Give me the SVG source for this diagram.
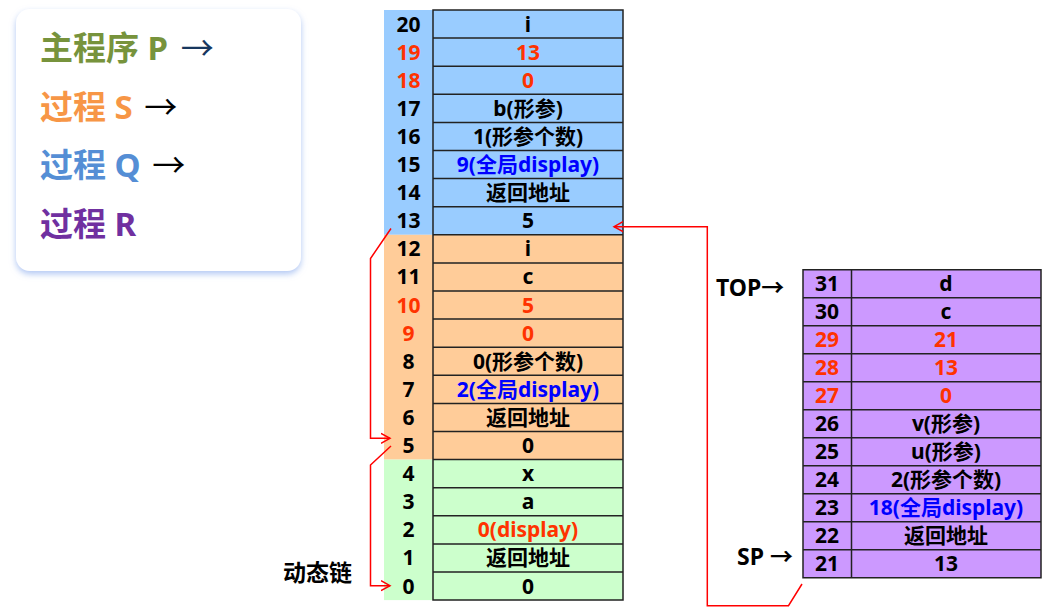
<svg xmlns="http://www.w3.org/2000/svg" width="1064" height="613" viewBox="0 0 1064 613">
<defs>
<style>
.t{font-family:"Noto Sans","Noto Sans CJK SC",sans-serif;font-weight:bold;font-size:21px;text-anchor:middle;fill:#000}
.r{fill:#FF3300}
.b{fill:#0000FF}
.lg{font-family:"Noto Sans","Noto Sans CJK SC",sans-serif;font-weight:bold;font-size:33px}
.ar{font-family:"Noto Sans CJK SC",sans-serif;font-weight:normal}
.lab{font-family:"Noto Sans","Noto Sans CJK SC",sans-serif;font-weight:bold;font-size:23px;fill:#000}
.grid{fill:none;stroke:#222;stroke-width:1.5}
.link{fill:none;stroke:#FF0000;stroke-width:1.5}
</style>
<marker id="ah" markerWidth="12" markerHeight="12" refX="9" refY="6" orient="auto" markerUnits="userSpaceOnUse">
<path d="M0,1 L9,6 L0,11" fill="none" stroke="#FF0000" stroke-width="1.5"/>
</marker>
<filter id="sh" x="-10%" y="-10%" width="120%" height="125%">
<feDropShadow dx="0" dy="3" stdDeviation="3" flood-color="#9DB9F0" flood-opacity="0.8"/>
</filter>
</defs>
<g id="legend">
<rect x="16" y="9" width="285" height="262" rx="14" fill="#fff" filter="url(#sh)"/>
<text class="lg" x="40" y="60" fill="#77933C">主程序 P <tspan class="ar" dx="4" fill="#17375E">→</tspan></text>
<text class="lg" x="40" y="119" fill="#F79646">过程 S <tspan class="ar" dx="3" fill="#000">→</tspan></text>
<text class="lg" x="40" y="177" fill="#558ED5">过程 Q <tspan class="ar" dx="3" fill="#000">→</tspan></text>
<text class="lg" x="40" y="236" fill="#7030A0">过程 R</text>
</g>
<g id="stackMain">
<rect x="384" y="10" width="239" height="224.8" fill="#99CCFF"/>
<rect x="384" y="234.8" width="239" height="224.8" fill="#FFCC99"/>
<rect x="384" y="459.6" width="239" height="140.5" fill="#CCFFCC"/>
<path class="grid" d="M433,10H623V600.1H433Z M433,38.1H623 M433,66.2H623 M433,94.3H623 M433,122.4H623 M433,150.5H623 M433,178.6H623 M433,206.7H623 M433,234.8H623 M433,262.9H623 M433,291H623 M433,319.1H623 M433,347.2H623 M433,375.3H623 M433,403.4H623 M433,431.5H623 M433,459.6H623 M433,487.7H623 M433,515.8H623 M433,543.9H623 M433,572H623"/>
<g id="r20"><text class="t" x="408.5" y="31.5">20</text><text class="t" x="528" y="31.5">i</text></g>
<g id="r19"><text class="t r" x="408.5" y="59.6">19</text><text class="t r" x="528" y="59.6">13</text></g>
<g id="r18"><text class="t r" x="408.5" y="87.7">18</text><text class="t r" x="528" y="87.7">0</text></g>
<g id="r17"><text class="t" x="408.5" y="115.8">17</text><text class="t" x="528" y="115.8">b(形参)</text></g>
<g id="r16"><text class="t" x="408.5" y="143.9">16</text><text class="t" x="528" y="143.9">1(形参个数)</text></g>
<g id="r15"><text class="t" x="408.5" y="172">15</text><text class="t b" x="528" y="172">9(全局display)</text></g>
<g id="r14"><text class="t" x="408.5" y="200.1">14</text><text class="t" x="528" y="200.1">返回地址</text></g>
<g id="r13"><text class="t" x="408.5" y="228.2">13</text><text class="t" x="528" y="228.2">5</text></g>
<g id="r12"><text class="t" x="408.5" y="256.3">12</text><text class="t" x="528" y="256.3">i</text></g>
<g id="r11"><text class="t" x="408.5" y="284.4">11</text><text class="t" x="528" y="284.4">c</text></g>
<g id="r10"><text class="t r" x="408.5" y="312.5">10</text><text class="t r" x="528" y="312.5">5</text></g>
<g id="r9"><text class="t r" x="408.5" y="340.6">9</text><text class="t r" x="528" y="340.6">0</text></g>
<g id="r8"><text class="t" x="408.5" y="368.7">8</text><text class="t" x="528" y="368.7">0(形参个数)</text></g>
<g id="r7"><text class="t" x="408.5" y="396.8">7</text><text class="t b" x="528" y="396.8">2(全局display)</text></g>
<g id="r6"><text class="t" x="408.5" y="424.9">6</text><text class="t" x="528" y="424.9">返回地址</text></g>
<g id="r5"><text class="t" x="408.5" y="453">5</text><text class="t" x="528" y="453">0</text></g>
<g id="r4"><text class="t" x="408.5" y="481.1">4</text><text class="t" x="528" y="481.1">x</text></g>
<g id="r3"><text class="t" x="408.5" y="509.2">3</text><text class="t" x="528" y="509.2">a</text></g>
<g id="r2"><text class="t" x="408.5" y="537.3">2</text><text class="t r" x="528" y="537.3">0(display)</text></g>
<g id="r1"><text class="t" x="408.5" y="565.4">1</text><text class="t" x="528" y="565.4">返回地址</text></g>
<g id="r0"><text class="t" x="408.5" y="593.5">0</text><text class="t" x="528" y="593.5">0</text></g>
</g>
<g id="stackR">
<rect x="803" y="269.7" width="238" height="308" fill="#CC99FF"/>
<path class="grid" d="M803,269.7H1041V577.7H803Z M851.5,269.7V577.7 M803,297.7H1041 M803,325.7H1041 M803,353.7H1041 M803,381.7H1041 M803,409.7H1041 M803,437.7H1041 M803,465.7H1041 M803,493.7H1041 M803,521.7H1041 M803,549.7H1041"/>
<g id="r31"><text class="t" x="827" y="291.2">31</text><text class="t" x="946" y="291.2">d</text></g>
<g id="r30"><text class="t" x="827" y="319.2">30</text><text class="t" x="946" y="319.2">c</text></g>
<g id="r29"><text class="t r" x="827" y="347.2">29</text><text class="t r" x="946" y="347.2">21</text></g>
<g id="r28"><text class="t r" x="827" y="375.2">28</text><text class="t r" x="946" y="375.2">13</text></g>
<g id="r27"><text class="t r" x="827" y="403.2">27</text><text class="t r" x="946" y="403.2">0</text></g>
<g id="r26"><text class="t" x="827" y="431.2">26</text><text class="t" x="946" y="431.2">v(形参)</text></g>
<g id="r25"><text class="t" x="827" y="459.2">25</text><text class="t" x="946" y="459.2">u(形参)</text></g>
<g id="r24"><text class="t" x="827" y="487.2">24</text><text class="t" x="946" y="487.2">2(形参个数)</text></g>
<g id="r23"><text class="t" x="827" y="515.2">23</text><text class="t b" x="946" y="515.2">18(全局display)</text></g>
<g id="r22"><text class="t" x="827" y="543.2">22</text><text class="t" x="946" y="543.2">返回地址</text></g>
<g id="r21"><text class="t" x="827" y="571.2">21</text><text class="t" x="946" y="571.2">13</text></g>
</g>
<g id="labels">
<text class="lab" x="716" y="296">TOP→</text>
<text class="lab" x="737" y="565">SP →</text>
<text class="lab" x="283" y="581">动态链</text>
</g>
<g id="connectors">
<path class="link" d="M391,228.5 L370.5,258.5 L370.5,438.3 L390,438.3" marker-end="url(#ah)"/>
<path class="link" d="M391,446 L370.5,465 L370.5,585.7 L390,585.7" marker-end="url(#ah)"/>
<path class="link" d="M802,584 L788.5,605.7 L707.3,605.7 L707.3,226.7 L614,226.7" marker-end="url(#ah)"/>
</g>
</svg>
